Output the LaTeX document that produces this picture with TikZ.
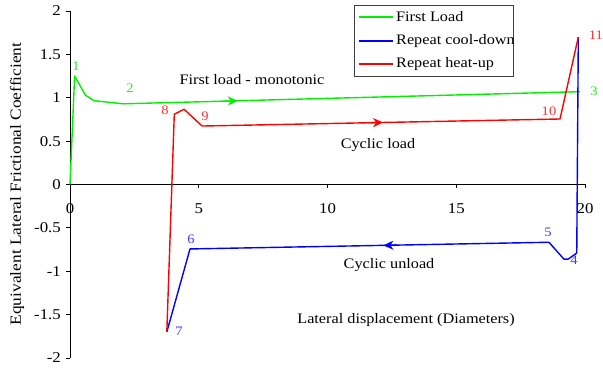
\documentclass[tikz,border=0pt]{standalone}
\usepackage{fontspec}
\setmainfont{Liberation Serif}[FakeStretch=1.12]
\usetikzlibrary{arrows.meta}
\definecolor{cgreen}{RGB}{0,240,0}
\definecolor{cblue}{RGB}{0,0,255}
\definecolor{cred}{RGB}{255,0,0}
\definecolor{lgreen}{RGB}{40,235,40}
\definecolor{lblue}{RGB}{60,60,255}
\definecolor{lred}{RGB}{255,50,50}
\tikzset{
  curve/.style={line width=1.4pt, line join=round},
  axisline/.style={line width=0.8pt, black},
  ticklab/.style={font=\fontsize{15}{17}\selectfont, inner sep=0pt},
  ptlab/.style={font=\fontsize{13}{15}\selectfont, inner sep=0pt},
  txt/.style={font=\fontsize{14.5}{17}\selectfont, inner sep=0pt},
  midarrow/.style={-{Stealth[length=10pt,width=9pt,inset=3pt]}, line width=1.4pt},
  legline/.style={line width=1.5pt},
}
\begin{document}
\begin{tikzpicture}
\useasboundingbox (0,0) rectangle (603pt,369pt);
\begin{scope}[shift={(70pt,184.5pt)}, x=25.75pt, y=86.75pt]
  % axes
  \draw[axisline] (0,-2) -- (0,2);
  \draw[axisline] (0,0) -- (20,0);
  \foreach \v/\l in {2/2,1.5/1.5,1/1,0.5/0.5,0/0,-0.5/-0.5,-1/-1,-1.5/-1.5,-2/-2} {
    \draw[axisline] (0,\v) -- ++(-4pt,0);
    \node[ticklab, anchor=east] (yt\l) at (-9pt,\v) {\l};
  }
  \foreach \v in {0,5,10,15,20} {
    \draw[axisline] (\v,0) -- ++(0,-4pt);
    \node[ticklab, anchor=north] (xt\v) at (\v,-19pt) {\v};
  }
  % green first load
  \draw[curve, cgreen] (0,0) -- (0.18,1.25) -- (0.6,1.03) -- (0.94,0.966) -- (2.07,0.93) -- (19.8,1.07);
  \draw[midarrow, cgreen] (6.0,0.961) -- (6.52,0.965);
  % blue repeat cool-down
  \draw[curve, cblue] (19.74,1.70) -- (19.68,-0.79) -- (19.35,-0.86) -- (19.18,-0.86) -- (18.6,-0.666) -- (4.66,-0.743) -- (3.76,-1.70);
  \draw[midarrow, cblue] (12.7,-0.699) -- (12.17,-0.702);
  % red repeat heat-up
  \draw[curve, cred] (3.76,-1.70) -- (4.05,0.81) -- (4.43,0.867) -- (5.13,0.674) -- (19.03,0.755) -- (19.74,1.70);
  \draw[midarrow, cred] (11.6,0.712) -- (12.16,0.715);
\end{scope}
% point labels
\node[ptlab, lgreen] (p1) at (76pt,303pt) {1};
\node[ptlab, lgreen] (p2) at (130pt,281pt) {2};
\node[ptlab, lgreen] (p3) at (594pt,278pt) {3};
\node[ptlab, lblue] (p4) at (574pt,109pt) {4};
\node[ptlab, lblue] (p5) at (548pt,137pt) {5};
\node[ptlab, lblue] (p6) at (191pt,130pt) {6};
\node[ptlab, lblue] (p7) at (179pt,38pt) {7};
\node[ptlab, lred] (p8) at (165pt,259pt) {8};
\node[ptlab, lred] (p9) at (205pt,253pt) {9};
\node[ptlab, lred] (p10) at (549pt,258pt) {10};
\node[ptlab, lred] (p11) at (596pt,334pt) {11};
% annotations
\node[txt] (tfirst) at (252pt,289pt) {First load - monotonic};
\node[txt] (tcload) at (378pt,224pt) {Cyclic load};
\node[txt] (tcunl) at (389pt,104pt) {Cyclic unload};
\node[txt] (txlab) at (406pt,49pt) {Lateral displacement (Diameters)};
\node[txt, font=\fontsize{15.5}{18}\selectfont, rotate=90] (tylab) at (17pt,185pt) {Equivalent Lateral Frictional Coefficient};
% legend
\draw[line width=0.8pt, black!75, fill=white] (354pt,293pt) rectangle (513pt,364pt);
\draw[legline, draw=cgreen] (359pt,352pt) -- (393pt,352pt);
\draw[legline, draw=cblue] (359pt,328pt) -- (393pt,328pt);
\draw[legline, draw=cred] (359pt,305pt) -- (393pt,305pt);
\node[txt, anchor=west] (lg1) at (396pt,352pt) {First Load};
\node[txt, anchor=west] (lg2) at (396pt,328pt) {Repeat cool-down};
\node[txt, anchor=west] (lg3) at (396pt,305pt) {Repeat heat-up};
\end{tikzpicture}
\end{document}
